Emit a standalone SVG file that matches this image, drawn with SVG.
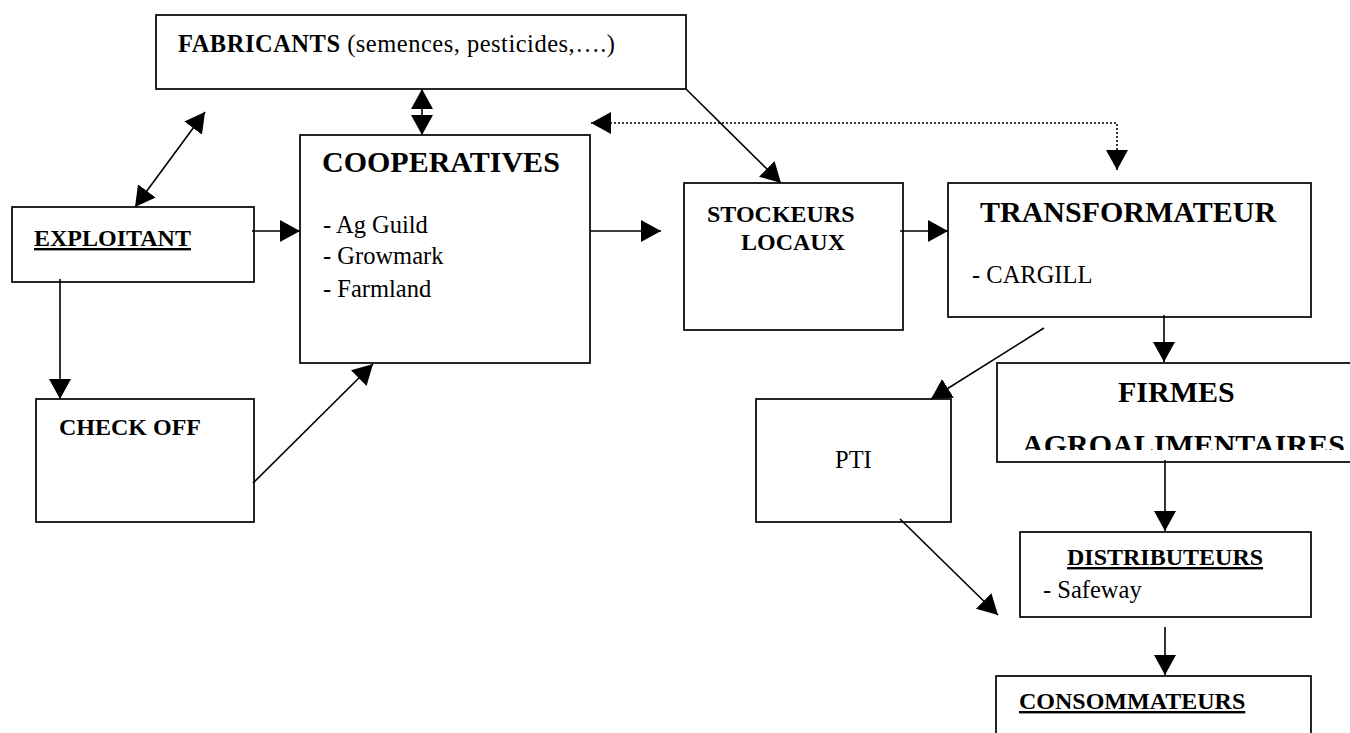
<svg xmlns="http://www.w3.org/2000/svg" width="1350" height="733" viewBox="0 0 1350 733">
  <style>
    .box { fill: #fff; stroke: #000; stroke-width: 1.7; }
    .t { font-family: "Liberation Serif", "Times New Roman", serif; fill: #000; }
    .h1 { font-size: 30px; font-weight: bold; }
    .h2 { font-size: 24px; font-weight: bold; }
    .r { font-size: 24.5px; }
    .u { text-decoration: underline; }
    .ln { fill: none; stroke: #000; stroke-width: 1.6; }
    .dot { fill: none; stroke: #000; stroke-width: 1.6; stroke-dasharray: 2 2; }
  </style>
  <defs>
    <marker id="ah" markerUnits="userSpaceOnUse" markerWidth="20" markerHeight="22" viewBox="0 0 20 22" refX="20" refY="11" orient="auto-start-reverse">
      <path d="M0,0 L20,11 L0,22 Z" fill="#000"/>
    </marker>
    <clipPath id="firmesClip">
      <rect x="997" y="363" width="360" height="87"/>
    </clipPath>
  </defs>
  <rect width="1350" height="733" fill="#fff"/>

  <g id="fabricants">
    <rect class="box" x="156" y="15" width="530" height="74"/>
    <text class="t r" x="178" y="52" textLength="437" lengthAdjust="spacing"><tspan font-weight="bold">FABRICANTS</tspan> (semences, pesticides,….)</text>
  </g>

  <g id="cooperatives">
    <rect class="box" x="300" y="135" width="290" height="228"/>
    <text class="t h1" x="322" y="172">COOPERATIVES</text>
    <text class="t r" x="323" y="233">- Ag Guild</text>
    <text class="t r" x="323" y="264">- Growmark</text>
    <text class="t r" x="323" y="297">- Farmland</text>
  </g>

  <g id="exploitant">
    <rect class="box" x="12" y="207" width="242" height="75"/>
    <text class="t h2 u" x="34" y="246">EXPLOITANT</text>
  </g>

  <g id="checkoff">
    <rect class="box" x="36" y="399" width="218" height="123"/>
    <text class="t h2" x="59" y="435">CHECK OFF</text>
  </g>

  <g id="stockeurs">
    <rect class="box" x="684" y="183" width="219" height="147"/>
    <text class="t h2" x="707" y="222">STOCKEURS</text>
    <text class="t h2" x="741" y="250">LOCAUX</text>
  </g>

  <g id="transformateur">
    <rect class="box" x="948" y="183" width="363" height="134"/>
    <text class="t h1" x="980" y="222">TRANSFORMATEUR</text>
    <text class="t r" x="972" y="283">- CARGILL</text>
  </g>

  <g id="firmes">
    <rect class="box" x="997" y="363" width="360" height="99"/>
    <text class="t h1" x="1118" y="402">FIRMES</text>
    <text class="t h1" x="1022" y="455" clip-path="url(#firmesClip)">AGROALIMENTAIRES</text>
  </g>

  <g id="pti">
    <rect class="box" x="756" y="399" width="195" height="123"/>
    <text class="t r" x="835" y="468">PTI</text>
  </g>

  <g id="distributeurs">
    <rect class="box" x="1020" y="532" width="291" height="85"/>
    <text class="t h2 u" x="1067" y="565">DISTRIBUTEURS</text>
    <text class="t r" x="1043" y="598">- Safeway</text>
  </g>

  <g id="consommateurs">
    <rect class="box" x="996" y="676" width="315" height="70"/>
    <text class="t h2 u" x="1019" y="709">CONSOMMATEURS</text>
  </g>

  <g id="connectors">
    <!-- two-way links -->
    <line class="ln" x1="422" y1="89" x2="422" y2="135" marker-start="url(#ah)" marker-end="url(#ah)"/>
    <line class="ln" x1="135" y1="207" x2="205" y2="112" marker-start="url(#ah)" marker-end="url(#ah)"/>
    <path class="dot" d="M1117,170 V123 H591" marker-start="url(#ah)" marker-end="url(#ah)"/>
    <!-- one-way flows -->
    <line class="ln" x1="686" y1="89" x2="781" y2="183" marker-end="url(#ah)"/>
    <line class="ln" x1="252" y1="231" x2="300" y2="231" marker-end="url(#ah)"/>
    <line class="ln" x1="590" y1="231" x2="661" y2="231" marker-end="url(#ah)"/>
    <line class="ln" x1="900" y1="231" x2="948" y2="231" marker-end="url(#ah)"/>
    <line class="ln" x1="60" y1="279" x2="60" y2="399" marker-end="url(#ah)"/>
    <line class="ln" x1="253" y1="483" x2="373" y2="364" marker-end="url(#ah)"/>
    <line class="ln" x1="1044" y1="328" x2="931" y2="399" marker-end="url(#ah)"/>
    <line class="ln" x1="1164" y1="315" x2="1164" y2="362" marker-end="url(#ah)"/>
    <line class="ln" x1="1165" y1="460" x2="1165" y2="531" marker-end="url(#ah)"/>
    <line class="ln" x1="900" y1="519" x2="998" y2="615" marker-end="url(#ah)"/>
    <line class="ln" x1="1165" y1="627" x2="1165" y2="675" marker-end="url(#ah)"/>
  </g>
</svg>
